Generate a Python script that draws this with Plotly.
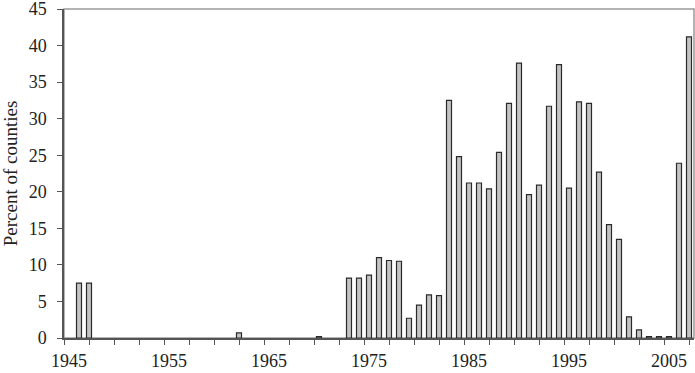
import plotly.graph_objects as go

years = list(range(1945, 2008))
values_known = {
    1946: 7.5, 1947: 7.5, 1962: 0.7, 1970: 0.2,
    1973: 8.2, 1974: 8.2, 1975: 8.6, 1976: 11.0, 1977: 10.6, 1978: 10.5,
    1979: 2.7, 1980: 4.5, 1981: 5.9, 1982: 5.8, 1983: 32.5, 1984: 24.8,
    1985: 21.2, 1986: 21.2, 1987: 20.4, 1988: 25.4, 1989: 32.1, 1990: 37.6,
    1991: 19.6, 1992: 20.9, 1993: 31.7, 1994: 37.4, 1995: 20.5, 1996: 32.3,
    1997: 32.1, 1998: 22.7, 1999: 15.5, 2000: 13.5, 2001: 2.9, 2002: 1.1,
    2003: 0.2, 2004: 0.2, 2005: 0.2, 2006: 23.9, 2007: 41.2,
}
values = [values_known.get(y) for y in years]
x_label_years = [1945, 1955, 1965, 1975, 1985, 1995, 2005]
y_ticks = [0, 5, 10, 15, 20, 25, 30, 35, 40, 45]

FONT = "Liberation Serif"
FS = 18

fig = go.Figure()
fig.add_trace(go.Bar(
    x=years, y=values, width=0.5,
    marker=dict(color="#c4c4c4", line=dict(color="#2a2a2a", width=1.2)),
))

fig.update_layout(
    width=695, height=373,
    margin=dict(l=64, r=1, t=9, b=35),
    paper_bgcolor="white", plot_bgcolor="white",
    showlegend=False,
    font=dict(family=FONT, size=FS, color="#222"),
    shapes=[dict(type="rect", xref="paper", yref="paper", x0=0, y0=0, x1=1, y1=1,
                 line=dict(color="#9a9a9a", width=1.5), layer="below")],
)
fig.update_xaxes(
    range=[1944.5, 2007.5], automargin=False, ticklabeloverflow="allow",
    tickvals=x_label_years, ticktext=[str(v) for v in x_label_years],
    ticks="", showgrid=False, zeroline=False,
    showline=True, linecolor="#555", linewidth=1.5,
    minor=dict(tick0=1944.5, dtick=2.5, ticks="outside", ticklen=5,
               tickcolor="#555", tickwidth=1, showgrid=False),
    tickfont=dict(family=FONT, size=FS, color="#222"),
    ticklabelstandoff=6,
)
fig.update_yaxes(
    range=[0, 45], automargin=False, ticklabeloverflow="allow",
    tickvals=y_ticks, ticktext=[str(v) for v in y_ticks],
    ticks="outside", ticklen=5, tickcolor="#555", tickwidth=1,
    showgrid=False, zeroline=False,
    showline=True, linecolor="#555", linewidth=1.5,
    tickfont=dict(family=FONT, size=FS, color="#222"),
    ticklabelstandoff=7,
    title=dict(text="Percent of counties", font=dict(family=FONT, size=FS + 1, color="#222"), standoff=16),
)

fig.write_html("out.html")
